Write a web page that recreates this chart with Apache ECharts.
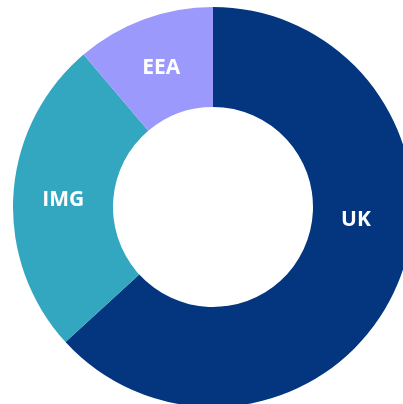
<!DOCTYPE html>
<html>
<head>
<meta charset="utf-8">
<script src="https://cdn.jsdelivr.net/npm/echarts@6/dist/echarts.min.js"></script>
<style>
  html, body { margin: 0; padding: 0; background: #fff; }
  #chart { width: 403px; height: 404px; }
</style>
</head>
<body>
<div id="chart"></div>
<script>
// share of each region (start at 12 o'clock, clockwise)
const regions = ['UK', 'IMG', 'EEA'];
const shares = [63.2, 25.6, 11.2];
const colors = ['#03367f', '#33a7bf', '#9b99fc'];

const chart = echarts.init(document.getElementById('chart'));

chart.setOption({
  animation: false,
  series: [
    {
      type: 'pie',
      center: [213, 207],
      radius: [100, 200],
      startAngle: 90,
      clockwise: true,
      silent: true,
      itemStyle: { borderWidth: 0 },
      label: {
        show: true,
        position: 'inside',
        formatter: '{b}',
        color: '#fff',
        fontWeight: 'bold',
        fontSize: 21,
        fontFamily: 'Open Sans'
      },
      labelLine: { show: false },
      // the UK label sits near 3 o'clock instead of at the slice's middle
      labelLayout: function (p) {
        if (p.dataIndex === 0) return { dx: 3, dy: -49 };
        if (p.dataIndex === 1) return { dx: 3, dy: 3 };
        return { dx: 1, dy: 5 };
      },
      data: regions.map((name, i) => ({
        name: name,
        value: shares[i],
        itemStyle: { color: colors[i] }
      }))
    }
  ]
});
</script>
</body>
</html>
